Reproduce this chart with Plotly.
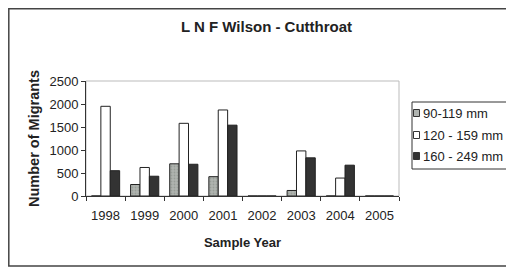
import plotly.graph_objects as go

years = ["1998", "1999", "2000", "2001", "2002", "2003", "2004", "2005"]
small = [0, 250, 700, 420, 0, 120, 0, 0]
medium = [1950, 620, 1580, 1870, 0, 980, 390, 0]
large = [550, 430, 690, 1540, 0, 830, 670, 0]
series_names = ["90-119 mm", "120 - 159 mm", "160 - 249 mm"]
y_ticks = [0, 500, 1000, 1500, 2000, 2500]

font = "Liberation Sans, Arial, sans-serif"
fills = ["#b0b4b0", "white", "#333333"]

fig = go.Figure()
for name, vals, col in zip(series_names, [small, medium, large], fills):
    marker = dict(color=col, line=dict(color="#222", width=1))
    if name == series_names[0]:
        marker["pattern"] = dict(shape=".", fgcolor="#80857f", size=3, solidity=0.3)
    fig.add_trace(go.Bar(name=name, x=years, y=vals, marker=marker, showlegend=False))

# page body has an 8px margin, so figure coords = screen coords - 8
L, R, T, B = 78, 391, 73, 188
W, H = 514, 270
pw, ph = R - L, B - T

def px(x):
    return (x - L) / pw

def py(y):
    return (B - y) / ph

fig.update_layout(
    width=W, height=H,
    margin=dict(l=L, r=W - R, t=T, b=H - B, autoexpand=False),
    paper_bgcolor="white", plot_bgcolor="white",
    font=dict(family=font, size=13, color="#222"),
    barmode="group", bargap=0.28, bargroupgap=0,
    title=dict(text="<b>L N F Wilson - Cutthroat</b>", x=258.5 / W, xanchor="center",
               y=1 - 19 / H, yanchor="middle", font=dict(size=15)),
    showlegend=False,
)
fig.update_xaxes(
    type="category", showline=True, linecolor="#333", linewidth=1,
    ticks="outside", tickson="boundaries", ticklen=4, tickcolor="#333",
    showgrid=False, tickangle=0, automargin=False, ticklabelstandoff=7,
    title=dict(text="<b>Sample Year</b>", font=dict(size=13), standoff=16),
    tickfont=dict(size=13),
)
fig.update_yaxes(
    range=[0, 2500], tickvals=y_ticks, showline=True, linecolor="#333", linewidth=1,
    ticks="outside", ticklen=4, tickcolor="#333", showgrid=False, zeroline=False,
    automargin=False,
    title=dict(text="<b>Number of Migrants</b>", font=dict(size=14.5), standoff=6),
    tickfont=dict(size=13),
)
# light gray plot-area border (top/right)
fig.add_shape(type="rect", xref="paper", yref="paper", x0=0, x1=1, y0=0, y1=1,
              line=dict(color="#bbbbbb", width=1), layer="below")
# outer chart border
fig.add_shape(type="rect", xref="paper", yref="paper",
              x0=px(0.8), x1=px(530), y0=py(258), y1=py(0.8),
              line=dict(color="#444", width=1.5), layer="below")

# legend box drawn manually
fig.add_shape(type="rect", xref="paper", yref="paper",
              x0=px(404), x1=px(530), y0=py(161), y1=py(94),
              line=dict(color="#333", width=1), fillcolor="white", layer="above")
item_y = [105, 127, 148]
for name, col, yy in zip(series_names, fills, item_y):
    fig.add_shape(type="rect", xref="paper", yref="paper",
                  x0=px(405.5), x1=px(411.5), y0=py(yy + 3.5), y1=py(yy - 3.5),
                  line=dict(color="#333", width=1), fillcolor=col, layer="above")
    fig.add_annotation(text=name, xref="paper", yref="paper", x=px(412.5), y=py(yy),
                       xanchor="left", yanchor="middle", showarrow=False,
                       font=dict(size=13, color="#222"))

fig.write_html("out.html")
